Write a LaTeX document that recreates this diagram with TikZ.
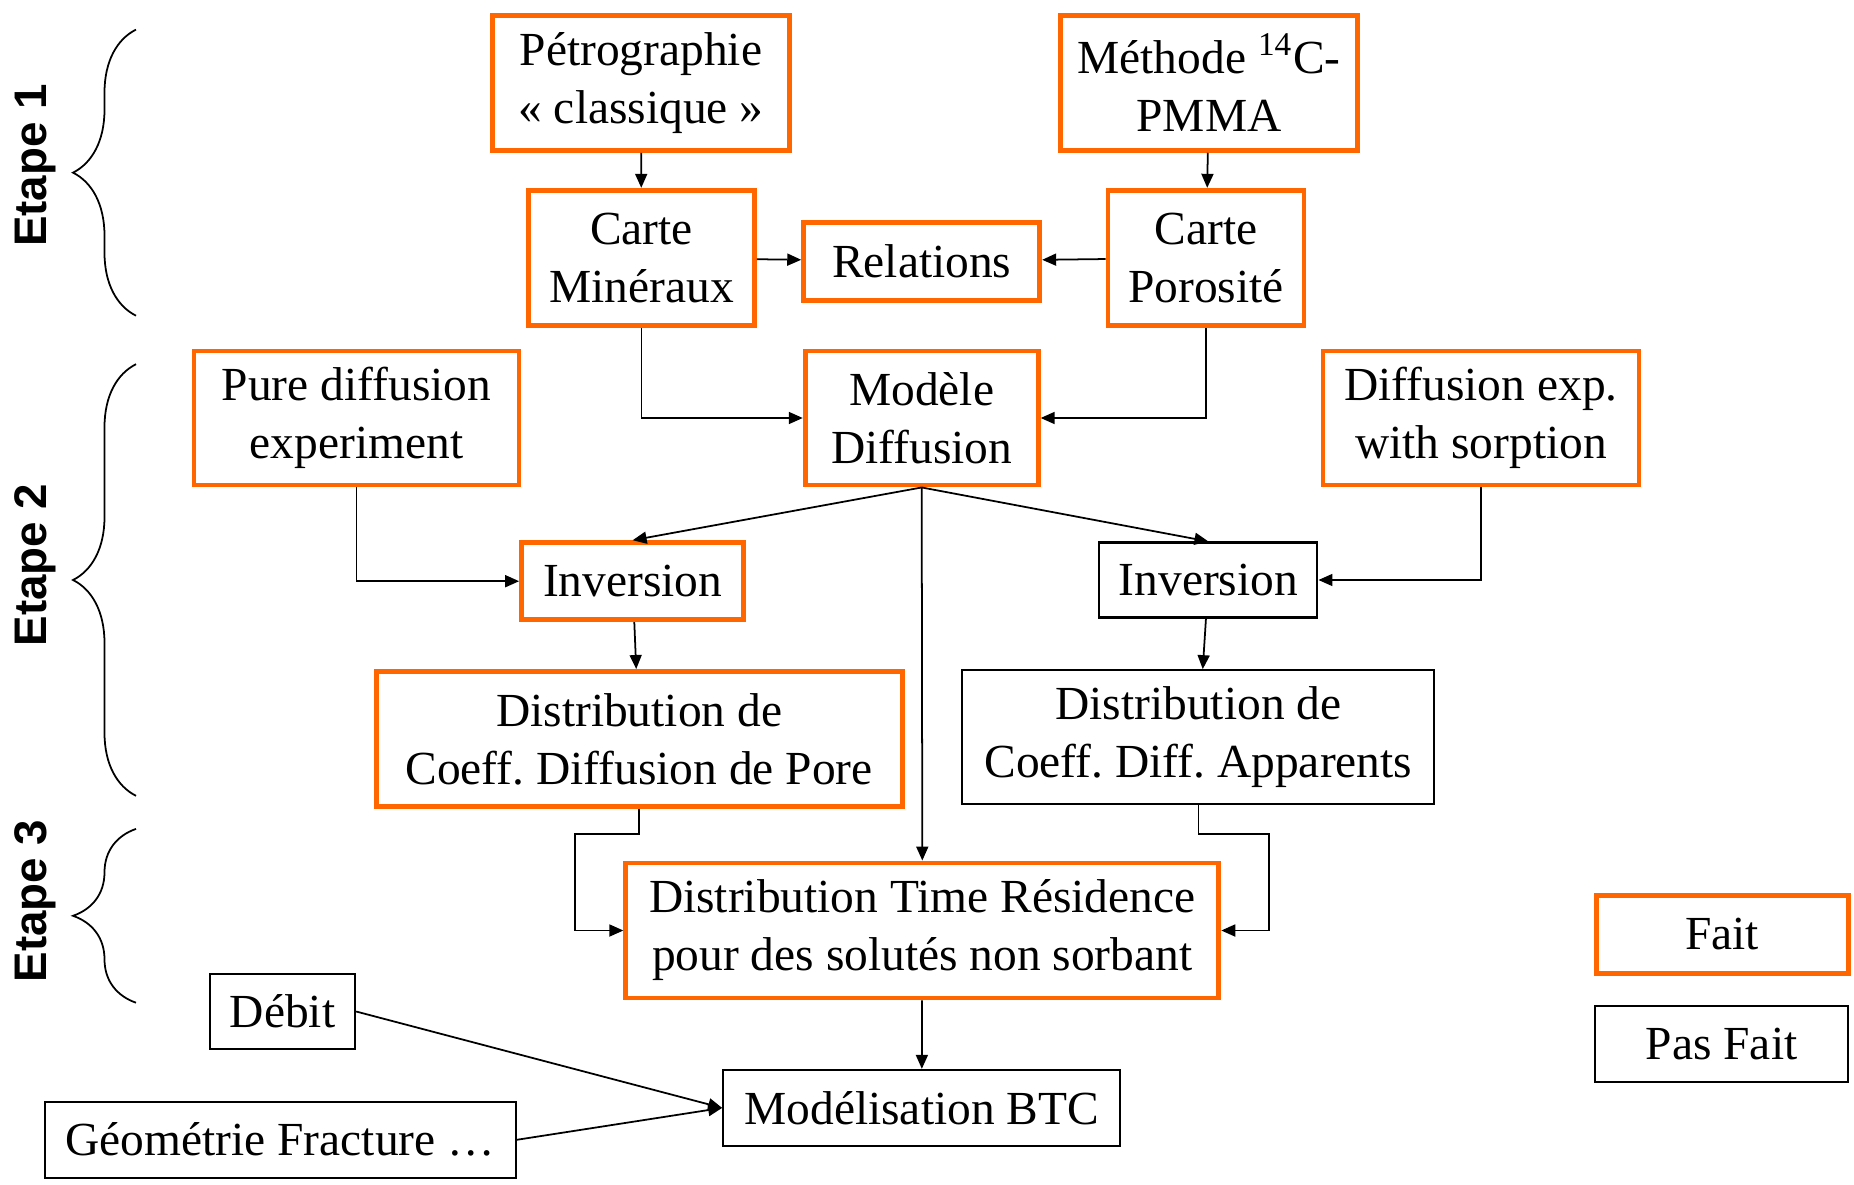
\documentclass[tikz,border=0pt]{standalone}
\usepackage{fontspec}
\setmainfont{Liberation Serif}
\newfontfamily\etapefont{Liberation Sans}
\usetikzlibrary{arrows.meta,decorations.pathreplacing}
\definecolor{fait}{HTML}{FF6600}
\frenchspacing

\begin{document}
\begin{tikzpicture}[
    font=\fontsize{13.5}{16.5}\selectfont,
    done/.style={draw=fait, line width=1.4pt, align=center, inner sep=0pt, fill=white},
    todo/.style={draw, line width=0.6pt, align=center, inner sep=0pt, fill=white},
    arr/.style={-{Triangle[length=1.4mm, width=1.2mm]}, line width=0.5pt},
    brc/.style={decorate, decoration={brace, amplitude=0.63cm}, line width=0.5pt},
    etp/.style={rotate=90, font=\etapefont\bfseries\fontsize{13}{15}\selectfont}
]
\useasboundingbox (0,0) rectangle (18.54,-11.84);

% etape 1
\node[done, minimum width=2.97cm, minimum height=1.35cm] (petro) at (6.409,-0.828) {Pétrographie\\« classique »};
\node[done, minimum width=2.97cm, minimum height=1.35cm] (meth) at (12.090,-0.828) {Méthode \textsuperscript{14}C-\\PMMA};
\node[done, minimum width=2.26cm, minimum height=1.35cm] (cmin) at (6.415,-2.578) {Carte\\Minéraux};
\node[done, minimum width=2.36cm, minimum height=0.78cm] (rel) at (9.217,-2.613) {Relations};
\node[done, minimum width=1.96cm, minimum height=1.35cm] (cpor) at (12.060,-2.578) {Carte\\Porosité};

% etape 2
\node[done, minimum width=3.25cm, minimum height=1.34cm] (pure) at (3.565,-4.180) {Pure diffusion\\experiment};
\node[done, minimum width=2.33cm, minimum height=1.34cm] (model) at (9.217,-4.180) {Modèle\\Diffusion};
\node[done, minimum width=3.16cm, minimum height=1.34cm] (sorp) at (14.810,-4.180) {Diffusion exp.\\with sorption};
\node[done, minimum width=2.22cm, minimum height=0.77cm] (inva) at (6.326,-5.812) {Inversion};
\node[todo, minimum width=2.18cm, minimum height=0.75cm] (invb) at (12.084,-5.800) {Inversion};
\node[done, minimum width=5.26cm, minimum height=1.35cm] (dpore) at (6.391,-7.390) {Distribution de\\Coeff. Diffusion de Pore};
\node[todo, minimum width=4.72cm, minimum height=1.34cm] (dapp) at (11.984,-7.372) {Distribution de\\Coeff. Diff. Apparents};

% etape 3
\node[done, minimum width=5.93cm, minimum height=1.35cm] (dtr) at (9.223,-9.305) {Distribution Time Résidence\\pour des solutés non sorbant};
\node[todo, minimum width=1.45cm, minimum height=0.75cm] (debit) at (2.826,-10.115) {Débit};
\node[todo, minimum width=3.97cm, minimum height=0.76cm] (btc) at (9.217,-11.079) {Modélisation BTC};
\node[todo, minimum width=4.71cm, minimum height=0.76cm] (geom) at (2.802,-11.398) {Géométrie Fracture …};

% legende
\node[done, minimum width=2.52cm, minimum height=0.78cm] (fait) at (17.222,-9.341) {Fait};
\node[todo, minimum width=2.53cm, minimum height=0.76cm] (pasfait) at (17.216,-10.441) {Pas Fait};

% accolades
\draw[brc] (1.360,-3.157) -- (1.360,-0.296);
\draw[brc] (1.360,-7.958) -- (1.360,-3.642);
\draw[brc] (1.360,-10.027) -- (1.360,-8.289);
\node[etp] (e1) at (0.355,-1.655) {Etape 1};
\node[etp] (e2) at (0.355,-5.652) {Etape 2};
\node[etp] (e3) at (0.355,-9.010) {Etape 3};

\draw[arr] (petro) -- (cmin);
\draw[arr] (meth) -- (cpor);
\draw[arr] (cmin) -- (rel);
\draw[arr] (cpor) -- (rel);
\draw[arr] (cmin.south) |- (model.west);
\draw[arr] (cpor.south) |- (model.east);
\draw[arr] (pure.south) |- (inva.west);
\draw[arr] (sorp.south) |- (invb.east);
\draw[arr] (model.south) -- (inva.north);
\draw[arr] (model.south) -- (invb.north);
\draw[arr] (model.south) -- (dtr.north);
\draw[arr] (inva) -- (dpore);
\draw[arr] (invb) -- (dapp);
\draw[arr] (dpore.south) |- ++(-0.644,-0.25) |- (dtr.west);
\draw[arr] (dapp.south) |- ++(0.704,-0.284) |- (dtr.east);
\draw[arr] (dtr) -- (btc);
\draw[arr] (debit.east) -- (btc.west);
\draw[arr] (geom.east) -- (btc.west);
\end{tikzpicture}
\end{document}
